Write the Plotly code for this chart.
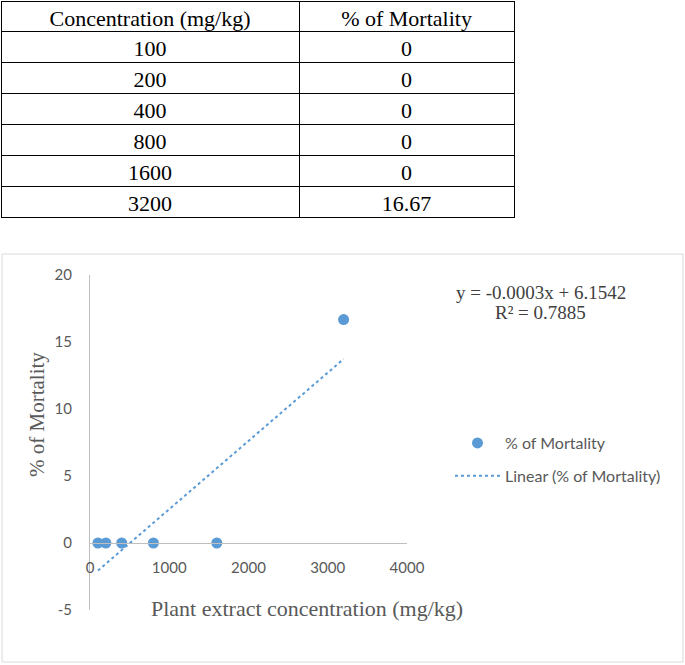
import plotly.graph_objects as go

# ---- data ----
concentration = [100, 200, 400, 800, 1600, 3200]
mortality = [0, 0, 0, 0, 0, 16.67]
table_conc_labels = ["100", "200", "400", "800", "1600", "3200"]
table_mort_labels = ["0", "0", "0", "0", "0", "16.67"]
table_headers = ["Concentration (mg/kg)", "% of Mortality"]
# linear trendline endpoints (as drawn)
trend_x = [100, 3200]
trend_y = [-2.06, 13.73]
x_ticks = [0, 1000, 2000, 3000, 4000]
y_ticks = [-5, 0, 5, 10, 15, 20]
y_tick_labels = ["-5", "0", "5", "10", "15", "20"]
equation_text = "y = -0.0003x + 6.1542"
r2_text = "R² = 0.7885"

W, H = 685, 665
def px(v):
    return v / W
def py(v):
    return 1 - v / H

BLUE = "#5B9BD5"
GRAY = "#595959"
SERIF = "Liberation Serif, Times New Roman, serif"
SANS = "Lato, Carlito, Calibri, sans-serif"

fig = go.Figure()

fig.add_trace(go.Table(
    domain=dict(x=[px(1), px(514)], y=[py(222), py(1)]),
    columnwidth=[298, 215],
    header=dict(values=table_headers, align="center", height=30,
                line=dict(color="black", width=1), fill=dict(color="white"),
                font=dict(family=SERIF, size=22, color="black")),
    cells=dict(values=[table_conc_labels, table_mort_labels], align="center", height=31,
               line=dict(color="black", width=1), fill=dict(color="white"),
               font=dict(family=SERIF, size=22, color="black")),
))

fig.add_trace(go.Scatter(
    x=concentration, y=mortality, mode="markers", name="% of Mortality",
    marker=dict(color=BLUE, size=11), legendgroup="a",
))
fig.add_trace(go.Scatter(
    x=trend_x, y=trend_y, mode="lines", name="Linear (% of Mortality)",
    line=dict(color=BLUE, width=2, dash="dot"), legendgroup="b",
))

fig.update_layout(
    width=W, height=H, margin=dict(l=0, r=0, t=0, b=0, autoexpand=False),
    paper_bgcolor="white", plot_bgcolor="white",
    showlegend=True,
    legend=dict(x=px(450), y=py(426), xanchor="left", yanchor="top",
                font=dict(family=SANS, size=16, color=GRAY),
                itemwidth=45, tracegroupgap=9, traceorder="grouped",
                bgcolor="rgba(0,0,0,0)"),
    xaxis=dict(domain=[px(90), px(407)], range=[0, 4000], tickvals=x_ticks,
               anchor="free", position=py(543), showline=True, linecolor="#BFBFBF",
               linewidth=1, showgrid=False, zeroline=False, ticks="",
               ticklabelstandoff=11,
               tickfont=dict(family=SANS, size=15, color=GRAY)),
    yaxis=dict(domain=[py(610), py(275)], range=[-5, 20], tickvals=y_ticks,
               ticktext=y_tick_labels,
               showline=True, linecolor="#BFBFBF", linewidth=1, showgrid=False,
               zeroline=False, ticks="", ticklabelstandoff=14,
               tickfont=dict(family=SANS, size=15, color=GRAY)),
    shapes=[dict(type="rect", xref="paper", yref="paper",
                 x0=px(2), x1=px(683), y0=py(662), y1=py(254),
                 line=dict(color="#D9D9D9", width=1))],
    annotations=[
        dict(text=equation_text, xref="paper", yref="paper", x=px(541), y=py(293),
             xanchor="center", yanchor="middle",
             showarrow=False, font=dict(family=SERIF, size=19, color="#404040")),
        dict(text=r2_text, xref="paper", yref="paper", x=px(540), y=py(313),
             xanchor="center", yanchor="middle",
             showarrow=False, font=dict(family=SERIF, size=19, color="#404040")),
        dict(text="% of Mortality", xref="paper", yref="paper", x=px(37), y=py(415),
             xanchor="center", yanchor="middle",
             textangle=-90, showarrow=False, font=dict(family=SERIF, size=21, color=GRAY)),
        dict(text="Plant extract concentration (mg/kg)", xref="paper", yref="paper",
             x=px(307), y=py(608), xanchor="center", yanchor="middle", showarrow=False,
             font=dict(family=SERIF, size=22, color=GRAY)),
    ],
)

fig.write_html("out.html", config={"displayModeBar": False},
               post_script="document.body.style.margin='0';document.body.style.overflow='hidden';")
